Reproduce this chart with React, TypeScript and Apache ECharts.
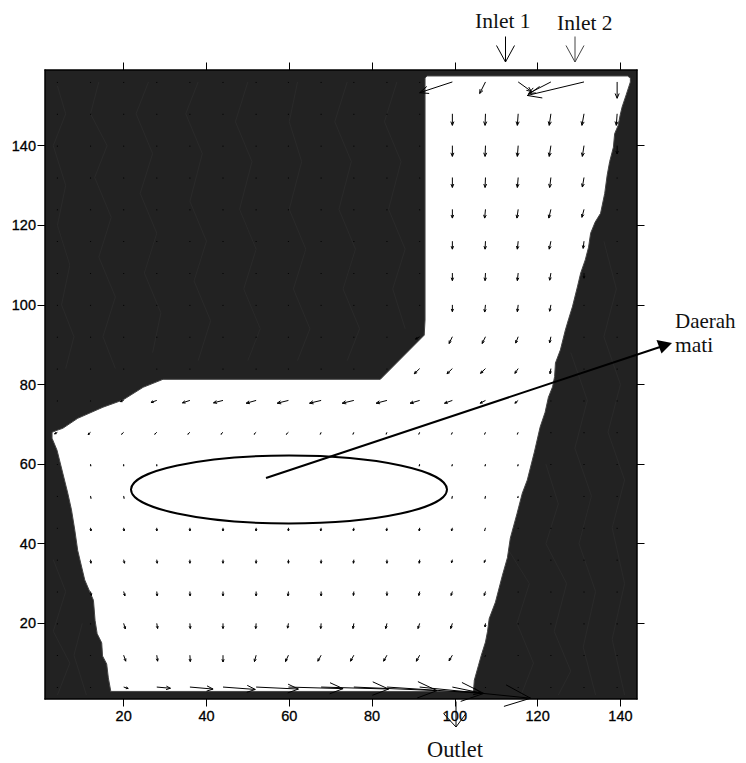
import React, { useEffect, useRef } from "react";
import * as echarts from "echarts";

const xTicks = [20, 40, 60, 80, 100, 120, 140];
const yTicks = [20, 40, 60, 80, 100, 120, 140];

const gridX = [4, 12, 20, 28, 36, 44, 52, 59.8, 67.7, 75.6, 83.6, 91.5, 99.4, 107.4, 115.3, 123.2, 131.2, 139.2];
const gridY = [4, 12, 20, 28, 36, 44, 52, 60, 68, 76, 84, 92, 100, 108, 116, 124, 132, 140, 148, 156];

// horizontal velocity per row (bottom row first), per column of gridX
const uRows = [
  [0, 0, 1.1, 3.3, 5.6, 7.8, 10.2, 13.2, 16.3, 20.1, 23.4, 26.8, 7, 0, 0, 0, 0, 0],
  [0, 0, 0.5, 0.2, 0.1, 0, -0.4, -0.7, -0.8, -0.8, -0.8, -0.8, -0.8, -0.1, 0, 0, 0, 0],
  [0, 0, 0.4, 0.2, 0.1, 0, -0.1, -0.2, -0.1, -0.2, -0.3, -0.4, -0.4, -0.1, 0, 0, 0, 0],
  [0, 0.2, 0.3, 0.1, 0.05, 0, 0, -0.1, 0, -0.1, 0, -0.2, -0.3, -0.3, 0, 0, 0, 0],
  [0, 0.1, 0.2, 0.1, 0, 0, 0, 0, 0, -0.1, 0, -0.1, -0.2, -0.3, 0, 0, 0, 0],
  [0, 0.1, 0.1, 0, 0, 0, 0, 0, -0.1, -0.1, -0.1, -0.1, -0.2, -0.2, 0, 0, 0, 0],
  [0, 0.1, 0.1, 0, 0, 0, 0, 0, 0, 0, -0.1, -0.1, -0.1, -0.1, -0.1, 0, 0, 0],
  [0, 0.05, 0, 0, 0, 0, 0, 0, 0, 0, -0.1, -0.1, -0.1, -0.1, -0.1, 0, 0, 0],
  [-0.7, -0.6, -0.5, -0.5, -0.5, -0.5, -0.5, -0.5, -0.2, -0.2, -0.2, -0.2, -0.2, -0.2, -0.2, 0, 0, 0],
  [0, 0, -0.8, -1.4, -1.8, -2.3, -2.4, -2.7, -2.8, -2.8, -2.6, -2.3, -1.9, -1.3, -0.8, 0, 0, 0],
  [0, 0, 0, 0, 0, 0, 0, 0, 0, 0, 0, -1.3, -1.3, -1.2, -0.8, -0.2, 0, 0],
  [0, 0, 0, 0, 0, 0, 0, 0, 0, 0, 0, -1, -0.8, -0.8, -0.6, -0.3, 0, 0],
  [0, 0, 0, 0, 0, 0, 0, 0, 0, 0, 0, 0, 0, -0.2, -0.2, -0.3, 0, 0],
  [0, 0, 0, 0, 0, 0, 0, 0, 0, 0, 0, 0, 0, -0.1, -0.2, -0.3, 0, 0],
  [0, 0, 0, 0, 0, 0, 0, 0, 0, 0, 0, 0, 0, -0.1, -0.2, -0.4, -0.2, 0],
  [0, 0, 0, 0, 0, 0, 0, 0, 0, 0, 0, 0, 0, -0.2, -0.3, -0.5, -0.5, 0],
  [0, 0, 0, 0, 0, 0, 0, 0, 0, 0, 0, 0, 0, -0.1, -0.2, -0.3, -0.4, 0],
  [0, 0, 0, 0, 0, 0, 0, 0, 0, 0, 0, 0, 0, -0.1, -0.2, -0.4, -0.4, 0],
  [0, 0, 0, 0, 0, 0, 0, 0, 0, 0, 0, 0, 0, -0.1, -0.2, -0.4, -0.5, -0.2],
  [0, 0, 0, 0, 0, 0, 0, 0, 0, 0, 0, 0, -7.9, -1.4, 3.2, -5.4, -13.7, 0],
];

// vertical velocity per row (bottom row first), per column of gridX
const vRows = [
  [-0.2, -0.2, -0.35, -0.3, -0.5, -0.6, -0.5, -0.4, -0.5, -0.9, -1.6, -2.8, -1.5, -0.2, -0.2, -0.2, -0.2, -0.2],
  [-0.2, -0.2, -1.5, -1.5, -1.6, -1.7, -1.6, -1.6, -1.5, -1.5, -1.5, -1.5, -1.4, -0.3, -0.2, -0.2, -0.2, -0.2],
  [-0.2, -0.2, -1.4, -1.3, -1.3, -1.3, -1.3, -1.2, -1.3, -1.3, -1.3, -1.3, -1.3, -0.9, -0.2, -0.2, -0.2, -0.2],
  [-0.2, -1, -1.1, -1.1, -1.1, -1.1, -1.1, -1.1, -1.1, -1, -1, -1, -1, -1, -0.2, -0.2, -0.2, -0.2],
  [-0.2, -0.9, -0.9, -0.9, -0.9, -0.9, -0.9, -0.9, -0.9, -0.9, -0.9, -0.9, -0.8, -0.7, -0.2, -0.2, -0.2, -0.2],
  [-0.2, -0.8, -0.8, -0.8, -0.8, -0.8, -0.8, -0.8, -0.8, -0.8, -0.8, -0.8, -0.8, -0.7, -0.2, -0.2, -0.2, -0.2],
  [-0.2, -0.6, -0.6, -0.6, -0.6, -0.6, -0.6, -0.6, -0.6, -0.6, -0.6, -0.6, -0.6, -0.6, -0.5, -0.2, -0.2, -0.2],
  [-0.2, -0.5, -0.5, -0.5, -0.5, -0.5, -0.5, -0.5, -0.5, -0.5, -0.5, -0.5, -0.5, -0.5, -0.5, -0.2, -0.2, -0.2],
  [-0.4, -0.6, -0.5, -0.5, -0.5, -0.5, -0.5, -0.5, -0.5, -0.5, -0.5, -0.5, -0.5, -0.5, -0.5, -0.2, -0.2, -0.2],
  [-0.2, -0.2, -0.3, -0.5, -0.6, -0.6, -0.7, -0.7, -0.7, -0.7, -0.7, -0.7, -0.7, -0.7, -0.7, -0.2, -0.2, -0.2],
  [-0.2, -0.2, -0.2, -0.2, -0.2, -0.2, -0.2, -0.2, -0.2, -0.2, -0.2, -1.3, -1.3, -1.2, -1.2, -1.3, -0.2, -0.2],
  [-0.2, -0.2, -0.2, -0.2, -0.2, -0.2, -0.2, -0.2, -0.2, -0.2, -0.2, -0.6, -1.7, -1.7, -1.6, -1.5, -0.2, -0.2],
  [-0.2, -0.2, -0.2, -0.2, -0.2, -0.2, -0.2, -0.2, -0.2, -0.2, -0.2, -0.2, -1.7, -1.8, -1.7, -1.6, -0.2, -0.2],
  [-0.2, -0.2, -0.2, -0.2, -0.2, -0.2, -0.2, -0.2, -0.2, -0.2, -0.2, -0.2, -1.9, -1.9, -1.9, -1.8, -1.3, -0.2],
  [-0.2, -0.2, -0.2, -0.2, -0.2, -0.2, -0.2, -0.2, -0.2, -0.2, -0.2, -0.2, -2, -2, -2, -2, -1.8, -0.2],
  [-0.2, -0.2, -0.2, -0.2, -0.2, -0.2, -0.2, -0.2, -0.2, -0.2, -0.2, -0.2, -2.2, -2.2, -2.2, -2.2, -2, -0.2],
  [-0.2, -0.2, -0.2, -0.2, -0.2, -0.2, -0.2, -0.2, -0.2, -0.2, -0.2, -0.2, -2.5, -2.5, -2.5, -2.5, -2.4, -0.2],
  [-0.2, -0.2, -0.2, -0.2, -0.2, -0.2, -0.2, -0.2, -0.2, -0.2, -0.2, -0.2, -2.7, -2.7, -2.7, -2.7, -2.7, -2.1],
  [-0.2, -0.2, -0.2, -0.2, -0.2, -0.2, -0.2, -0.2, -0.2, -0.2, -0.2, -0.2, -2.9, -2.9, -2.9, -2.9, -2.9, -2.9],
  [-0.2, -0.2, -0.2, -0.2, -0.2, -0.2, -0.2, -0.2, -0.2, -0.2, -0.2, -0.2, -2.7, -2.9, -2.4, -2.9, -3.4, -4.1],
];

// outline of the white flow region, in axis units
const fluidOutline = [
  [93.3, 157.5], [141.7, 157.5], [142.4, 157], [142.4, 156], [141.4, 152.8], [140.4, 149.7], [139.9, 147.5],
  [139.5, 145.2], [138.6, 143], [138.3, 139.6], [137.4, 136], [136.8, 132.6], [136.2, 128], [135.2, 123], [133.9, 120.8],
  [132.8, 118], [132.3, 114.5], [131.5, 111.3], [130.4, 108], [129.6, 104.5], [128.4, 99.5], [127.5, 96.5], [126.7, 93.7],
  [125.5, 88.7], [124.3, 85.4], [124.1, 82], [123.6, 79.4], [122.6, 76.8], [121.8, 73], [120.6, 69.3], [119.2, 63], [117.5, 56],
  [116.3, 52.7], [115, 47.5], [113.4, 41.4], [112.7, 36.5], [111.5, 32.1], [109.8, 25.3], [108.3, 21.2], [107.9, 18],
  [107.4, 15.3], [106.4, 12], [105.7, 9.4], [104.7, 5.7], [104.5, 2.9], [16.9, 2.9], [16.3, 6.3], [15.9, 9.8], [14.9, 11.8],
  [14.7, 15.1], [13.6, 17.4], [13.1, 20.7], [12.7, 25.8], [10.6, 30.9], [8.9, 38.3], [8.2, 43.4], [7.4, 48.5], [6.5, 52.7],
  [5.3, 57.7], [3.9, 63.5], [2.7, 66.5], [2.7, 68], [3.9, 68.5], [5.3, 69], [8.9, 71.5], [15, 74.3],
  [19.8, 76.1], [24.7, 79.3], [29.5, 81.3], [82, 81.3], [92.6, 92.4], [92.8, 96.2], [92.8, 157],
];

// faint contour traces on the dark area, in axis units
const contourTraces = [
  [[4, 155], [6, 148], [3, 140], [6, 130], [4, 120], [7, 110], [5, 100], [8, 92], [6, 84]],
  [[14, 156], [12, 148], [16, 140], [13, 132], [17, 122], [14, 112], [18, 102], [15, 92], [18, 84]],
  [[26, 156], [23, 148], [27, 138], [24, 128], [28, 118], [25, 108], [29, 98], [27, 88]],
  [[38, 156], [35, 148], [39, 138], [36, 126], [40, 116], [37, 106], [41, 96], [38, 86]],
  [[50, 156], [47, 146], [51, 136], [48, 124], [52, 114], [49, 104], [53, 94], [50, 86]],
  [[62, 156], [60, 146], [63, 136], [60, 124], [64, 114], [61, 104], [65, 94], [62, 86]],
  [[74, 156], [71, 146], [75, 136], [72, 124], [76, 114], [73, 104], [77, 94], [74, 86]],
  [[86, 156], [83, 146], [87, 136], [84, 124], [88, 114], [85, 104], [88, 94]],
  [[112, 40], [118, 30], [115, 20], [119, 10], [116, 2]],
  [[122, 60], [125, 50], [122, 40], [127, 30], [124, 18], [128, 8], [125, 2]],
  [[128, 88], [132, 76], [129, 64], [133, 52], [130, 40], [134, 28], [131, 14], [134, 2]],
  [[136, 116], [139, 104], [136, 92], [140, 80], [137, 68], [141, 56], [138, 44], [141, 30], [138, 16], [141, 2]],
  [[3, 36], [6, 28], [3, 18], [7, 10], [4, 2]],
  [[10, 20], [8, 12], [11, 2]],
];

const SANS = "'Liberation Sans', Arial, sans-serif";
const SERIF = "'Liberation Serif', 'Times New Roman', serif";

const quiverData: number[][] = [];
gridY.forEach((y, r) => {
  gridX.forEach((x, c) => {
    quiverData.push([x, y, uRows[r][c], vRows[r][c]]);
  });
});

function renderArrow(_params: any, api: any) {
  const x = api.value(0);
  const y = api.value(1);
  const a = api.coord([x, y]);
  const b = api.coord([x + api.value(2), y + api.value(3)]);
  const dx = b[0] - a[0];
  const dy = b[1] - a[1];
  const len = Math.hypot(dx, dy) || 1;
  const ux = dx / len;
  const uy = dy / len;
  const back = 0.22 * len + (len > 3 ? 1.2 : 0);
  const side = back * 0.42;
  const c1 = [b[0] - ux * back - uy * side, b[1] - uy * back + ux * side];
  const c2 = [b[0] - ux * back + uy * side, b[1] - uy * back - ux * side];
  const style = { stroke: "#000", lineWidth: 1, fill: "none" };
  return {
    type: "group",
    children: [
      { type: "polyline", shape: { points: [a, b] }, style },
      { type: "polyline", shape: { points: [c1, b, c2] }, style },
    ],
  };
}

function renderFluid(_params: any, api: any) {
  return {
    type: "polygon",
    shape: { points: fluidOutline.map((p) => api.coord(p)) },
    style: { fill: "#fff", stroke: "#444", lineWidth: 1 },
  };
}

function renderContour(params: any, api: any) {
  const trace = contourTraces[params.dataIndex];
  return {
    type: "polyline",
    shape: { points: trace.map((p) => api.coord(p)) },
    style: { fill: "none", stroke: "#2f2f2f", lineWidth: 0.6 },
  };
}

function overlay() {
  const thin = { stroke: "#000", lineWidth: 1, fill: "none" };
  const text = (t: string, x: number, y: number, size = 21.5) => ({
    type: "text",
    z: 100,
    x,
    y,
    style: { text: t, font: `${size}px ${SERIF}`, fill: "#111", verticalAlign: "middle" },
  });
  const line = (x1: number, y1: number, x2: number, y2: number, s: any = thin) => ({
    type: "line",
    z: 100,
    shape: { x1, y1, x2, y2 },
    style: s,
  });
  const barbs = (pts: number[][], s: any = thin) => ({
    type: "polyline",
    z: 100,
    shape: { points: pts },
    style: s,
  });
  const grey = { stroke: "#444", lineWidth: 1, fill: "none" };
  return [
    {
      type: "ellipse",
      z: 90,
      shape: { cx: 289, cy: 489.5, rx: 158, ry: 34 },
      style: { fill: "#fff", stroke: "#000", lineWidth: 2 },
    },
    line(266, 478, 660, 347, { stroke: "#000", lineWidth: 2 }),
    { type: "polygon", z: 100, shape: { points: [[672, 343], [656.5, 340], [661.5, 353.5]] }, style: { fill: "#000" } },
    line(505.5, 36.5, 505.5, 62),
    barbs([[496.5, 45.5], [505.5, 62], [514.5, 45.5]]),
    line(575, 36.5, 575, 62, grey),
    barbs([[566, 45.5], [575, 62], [584, 45.5]], grey),
    line(456, 701.5, 456, 727),
    barbs([[443.5, 713.5], [456, 727], [466, 713.5]]),
    text("Inlet 1", 475, 21),
    text("Inlet 2", 557, 23),
    text("Outlet", 427, 749, 22.4),
    text("Daerah", 675, 321, 21),
    text("mati", 675, 345),
  ];
}

export default function App() {
  const ref = useRef<HTMLDivElement>(null);
  useEffect(() => {
    const chart = echarts.init(ref.current!, undefined, { renderer: "svg" });
    const axisLine = { onZero: false, lineStyle: { color: "#000", width: 1.5 } };
    const tick = (vals: number[]) => ({
      show: true,
      length: 7.5,
      customValues: vals,
      lineStyle: { color: "#000", width: 1 },
    });
    const label = {
      customValues: xTicks,
      color: "#000",
      fontFamily: SANS,
      fontSize: 14.5,
      margin: 9,
      textBorderColor: "#000",
      textBorderWidth: 0.3,
    };
    chart.setOption({
      animation: false,
      backgroundColor: "#fff",
      grid: { show: true, left: 45, right: 109, top: 70, bottom: 64, backgroundColor: "#222222", borderWidth: 0 },
      xAxis: [
        {
          type: "value", position: "bottom", min: 1, max: 144, splitLine: { show: false }, axisLine,
          axisTick: tick(xTicks),
          axisLabel: label,
        },
        {
          type: "value", position: "top", min: 1, max: 144, splitLine: { show: false }, axisLine,
          axisTick: tick(xTicks), axisLabel: { show: false },
        },
      ],
      yAxis: [
        {
          type: "value", position: "left", min: 1, max: 159, splitLine: { show: false }, axisLine,
          axisTick: tick(yTicks),
          axisLabel: { ...label, customValues: yTicks },
        },
        {
          type: "value", position: "right", min: 1, max: 159, splitLine: { show: false }, axisLine,
          axisTick: tick(yTicks), axisLabel: { show: false },
        },
      ],
      series: [
        {
          type: "custom", z: 1, silent: true, clip: false, renderItem: renderContour,
          data: contourTraces.map((t) => t[0]), encode: { x: 0, y: 1 },
        },
        {
          type: "custom", z: 2, silent: true, clip: false, renderItem: renderFluid,
          data: [fluidOutline[0]], encode: { x: 0, y: 1 },
        },
        {
          type: "custom", z: 3, silent: true, clip: false, renderItem: renderArrow,
          data: quiverData, encode: { x: 0, y: 1 },
        },
      ],
      graphic: { elements: overlay() },
    });
    return () => chart.dispose();
  }, []);
  return <div ref={ref} style={{ position: "absolute", left: 0, top: 0, width: 746, height: 763 }} />;
}
